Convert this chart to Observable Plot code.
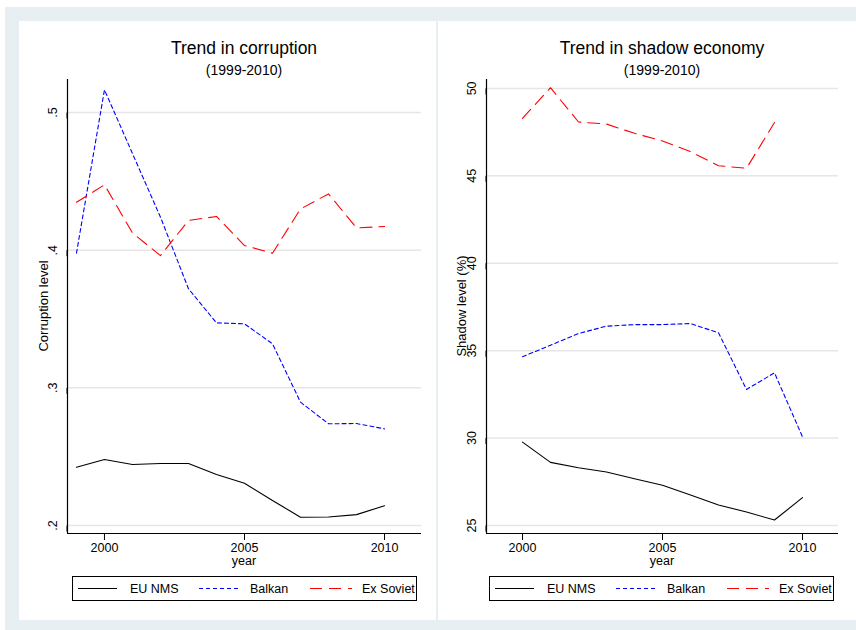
<!DOCTYPE html>
<html>
<head>
<meta charset="utf-8">
<script src="https://cdn.jsdelivr.net/npm/d3@7"></script>
<script src="https://cdn.jsdelivr.net/npm/@observablehq/plot@0.6"></script>
<style>
  body { margin: 0; background: #fff; font-family: "Liberation Sans", Arial, Helvetica, sans-serif; }
  #chart { position: relative; width: 856px; height: 630px; overflow: hidden; }
  .outer { position: absolute; left: 5px; top: 7px; width: 851px; height: 623px; background: #e8eff2; }
  .panel { position: absolute; top: 21px; height: 599px; background: #fff; }
  .plotbox { position: absolute; top: 21px; }
  #overlay { position: absolute; left: 0; top: 0; pointer-events: none; }
</style>
</head>
<body>
<div id="chart"><div class="outer"></div></div>
<script>
// Years covered by the corruption index
const corruptionYears = [1999, 2000, 2001, 2002, 2003, 2004, 2005, 2006, 2007, 2008, 2009, 2010];
const corruptionEU = [0.2423, 0.2479, 0.2443, 0.2450, 0.2450, 0.2370, 0.2307, 0.2182, 0.2060, 0.2062, 0.2079, 0.2144];
const corruptionBalkan = [0.3978, 0.5165, 0.4702, 0.4240, 0.3720, 0.3472, 0.3465, 0.3320, 0.2896, 0.2739, 0.2741, 0.2702];
const corruptionExSoviet = [0.4348, 0.4475, 0.4125, 0.3961, 0.4216, 0.4245, 0.4034, 0.3978, 0.4300, 0.4409, 0.4162, 0.4172];

// Years covered by the shadow economy estimates
const shadowYears = [2000, 2001, 2002, 2003, 2004, 2005, 2006, 2007, 2008, 2009, 2010];
const shadowEU = [29.77, 28.61, 28.30, 28.06, 27.67, 27.30, 26.74, 26.17, 25.77, 25.31, 26.59];
const shadowBalkan = [34.65, 35.31, 35.98, 36.40, 36.49, 36.49, 36.55, 36.02, 32.78, 33.73, 30.07];
const shadowExSoviet = [48.29, 50.04, 48.08, 47.96, 47.43, 46.99, 46.38, 45.58, 45.43, 48.05, null];

// Axis ticks
const xTicks = [2000, 2005, 2010];
const corruptionTicks = [0.2, 0.3, 0.4, 0.5];
const shadowTicks = [25, 30, 35, 40, 45, 50];

// Series names and line styles
const seriesNames = ["EU NMS", "Balkan", "Ex Soviet"];
const seriesColors = ["#000000", "#0000ff", "#ff0000"];
const seriesDash = [null, "4,3", "12,7"];

const FONT = '"Liberation Sans", Arial, Helvetica, sans-serif';
const chart = document.getElementById("chart");

const panels = [
  {
    left: 19, width: 417, marginRight: 15,
    title: "Trend in corruption", ylabel: "Corruption level", ylabelX: 47.5,
    xDomain: [1998.68, 2011.32], yDomain: [0.1942, 0.524],
    yTicks: corruptionTicks, fmt: d => d.toFixed(1).replace(/^0/, ""),
    years: corruptionYears, series: [corruptionEU, corruptionBalkan, corruptionExSoviet]
  },
  {
    left: 438, width: 418, marginRight: 18,
    title: "Trend in shadow economy", ylabel: "Shadow level (%)", ylabelX: 466,
    xDomain: [1998.714, 2011.286], yDomain: [24.54, 50.51],
    yTicks: shadowTicks, fmt: d => String(d),
    years: shadowYears, series: [shadowEU, shadowBalkan, shadowExSoviet]
  }
];

const plotTop = 21, plotHeight = 549, mTop = 58, mBottom = 37, mLeft = 48;

for (const p of panels) {
  const bg = document.createElement("div");
  bg.className = "panel";
  bg.style.left = p.left + "px";
  bg.style.width = p.width + "px";
  chart.appendChild(bg);

  const lineMarks = p.series.map((vals, i) =>
    Plot.line(p.years.map((yr, j) => ({year: yr, value: vals[j]})), {
      x: "year", y: "value",
      stroke: seriesColors[i], strokeWidth: 1.1,
      strokeDasharray: seriesDash[i] || undefined
    })
  );

  const svg = Plot.plot({
    width: p.width, height: plotHeight,
    marginTop: mTop, marginBottom: mBottom, marginLeft: mLeft, marginRight: p.marginRight,
    style: {background: "transparent", fontFamily: FONT, fontSize: "12.5px", color: "#000", overflow: "visible"},
    x: {domain: p.xDomain},
    y: {domain: p.yDomain},
    marks: [
      Plot.gridY(p.yTicks, {stroke: "#e6e6e6", strokeOpacity: 1, strokeWidth: 1.5}),
      Plot.axisY(p.yTicks, {tickSize: 6, tickPadding: 9, rotate: -90, textAnchor: "middle",
                            tickFormat: p.fmt, label: null, fontSize: 12.5}),
      Plot.axisX(xTicks, {tickSize: 7, tickPadding: 3, tickFormat: d => String(d), label: null, fontSize: 12.5}),
      Plot.ruleX([p.xDomain[0]], {y1: p.yDomain[0], y2: p.yDomain[1], stroke: "#000", strokeWidth: 1.2}),
      Plot.ruleY([p.yDomain[0]], {x1: p.xDomain[0], x2: p.xDomain[1], stroke: "#000", strokeWidth: 1.2}),
      ...lineMarks
    ]
  });
  svg.classList.add("plotbox");
  svg.style.position = "absolute";
  svg.style.left = p.left + "px";
  svg.style.top = plotTop + "px";
  chart.appendChild(svg);
}

// Titles, axis titles and legends
const overlay = d3.select(chart).append("svg")
  .attr("id", "overlay").attr("width", 856).attr("height", 630)
  .style("font-family", FONT);

panels.forEach((p, k) => {
  const cx = p.left + mLeft + (p.width - mLeft - p.marginRight) / 2;
  overlay.append("text").attr("x", cx).attr("y", 54).attr("text-anchor", "middle")
    .attr("font-size", 17.5).text(p.title);
  overlay.append("text").attr("x", cx).attr("y", 74.5).attr("text-anchor", "middle")
    .attr("font-size", 14).text("(1999-2010)");
  overlay.append("text").attr("x", cx).attr("y", 565).attr("text-anchor", "middle")
    .attr("font-size", 12.5).text("year");
  overlay.append("text")
    .attr("transform", `translate(${p.ylabelX},306) rotate(-90)`)
    .attr("text-anchor", "middle").attr("font-size", 13).text(p.ylabel);

  const ox = k === 0 ? 0 : 417;
  const g = overlay.append("g").attr("transform", `translate(${ox},0)`);
  g.append("rect").attr("x", 72.5).attr("y", 576.5).attr("width", 344).attr("height", 24)
    .attr("fill", "#fff").attr("stroke", "#000").attr("stroke-width", 1);
  const items = [[78, 117, 130], [199, 240, 250], [310, 352, 362]];
  items.forEach(([x1, x2, tx], i) => {
    const ln = g.append("line").attr("x1", x1).attr("x2", x2).attr("y1", 588.5).attr("y2", 588.5)
      .attr("stroke", seriesColors[i]).attr("stroke-width", 1.1);
    if (seriesDash[i]) ln.attr("stroke-dasharray", seriesDash[i]);
    g.append("text").attr("x", tx).attr("y", 593).attr("font-size", 12.5).text(seriesNames[i]);
  });
});
</script>
</body>
</html>
